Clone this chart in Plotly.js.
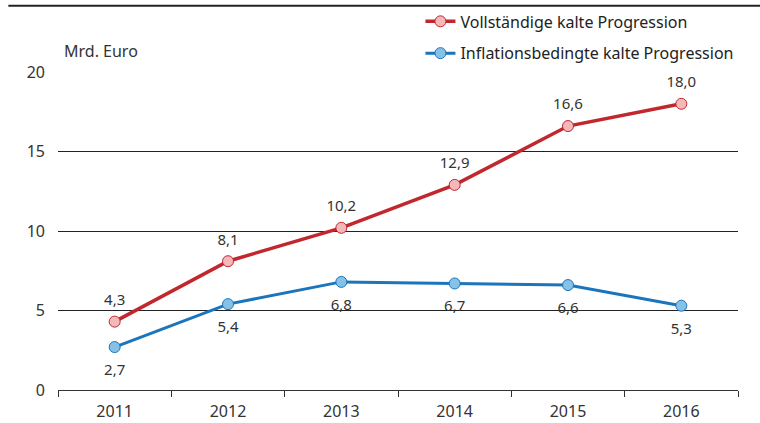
<!DOCTYPE html>
<html>
<head>
<meta charset="utf-8">
<script src="https://cdn.plot.ly/plotly-3.0.1.min.js"></script>
<style>html,body{margin:0;padding:0;background:#fff}#chart{width:760px;height:423px}</style>
</head>
<body>
<div id="chart"></div>
<script>
const years = ["2011", "2012", "2013", "2014", "2015", "2016"];
const vollstaendig = [4.3, 8.1, 10.2, 12.9, 16.6, 18.0];
const inflationsbedingt = [2.7, 5.4, 6.8, 6.7, 6.6, 5.3];
const seriesNames = ["Vollständige kalte Progression", "Inflationsbedingte kalte Progression"];
const yTicks = [0, 5, 10, 15, 20];

const fmt = v => v.toFixed(1).replace('.', ',');
const FONT = "Noto Sans, sans-serif";
const labelFont = {family: FONT, size: 15, color: "#333"};

const traces = [
  {
    x: years, y: vollstaendig, name: seriesNames[0], type: "scatter", mode: "lines+markers",
    line: {color: "#c1272d", width: 3.5},
    marker: {size: 11, color: "#f5b8ba", line: {color: "#c1272d", width: 1}},
    legendgroup: "a"
  },
  {
    x: years, y: inflationsbedingt, name: seriesNames[1], type: "scatter", mode: "lines+markers",
    line: {color: "#1b75bc", width: 3},
    marker: {size: 11, color: "#86c1e6", line: {color: "#1b75bc", width: 1}},
    legendgroup: "b"
  },
  {
    x: years, y: vollstaendig, type: "scatter", mode: "markers+text", showlegend: false, hoverinfo: "skip",
    marker: {size: 19, color: "rgba(0,0,0,0)"},
    text: vollstaendig.map(fmt), textposition: "top center", textfont: labelFont
  },
  {
    x: years, y: inflationsbedingt, type: "scatter", mode: "markers+text", showlegend: false, hoverinfo: "skip",
    marker: {size: 25, color: "rgba(0,0,0,0)"},
    text: inflationsbedingt.map(fmt), textposition: "bottom center", textfont: labelFont
  }
];

const layout = {
  width: 760, height: 423,
  margin: {l: 58, r: 22, t: 72, b: 33, autoexpand: false},
  paper_bgcolor: "#fff", plot_bgcolor: "#fff",
  font: {family: FONT, size: 15, color: "#333"},
  showlegend: true,
  legend: {
    x: 0.533, xanchor: "left", y: 1.2125, yanchor: "top",
    font: {family: FONT, size: 16, color: "#222"},
    traceorder: "grouped", tracegroupgap: 8, itemwidth: 30,
    bgcolor: "rgba(0,0,0,0)"
  },
  xaxis: {
    type: "category", tickson: "boundaries",
    ticks: "outside", ticklen: 6, tickcolor: "#333", tickwidth: 1,
    showline: true, linecolor: "#333", linewidth: 1,
    showgrid: false, zeroline: false,
    ticklabelstandoff: 7,
    tickfont: {family: FONT, size: 16, color: "#333"},
    range: [-0.5, 5.5], fixedrange: true
  },
  yaxis: {
    range: [0, 20], tickvals: yTicks, ticktext: yTicks.map(String),
    showgrid: true, gridcolor: "#222", gridwidth: 1,
    zeroline: false, showline: false, ticks: "",
    ticklabelstandoff: 12,
    tickfont: {family: FONT, size: 16, color: "#333"},
    fixedrange: true
  },
  annotations: [
    {text: "Mrd. Euro", xref: "paper", yref: "paper", x: 0.006, y: 1.025, xanchor: "left", yanchor: "bottom",
     showarrow: false, font: {family: FONT, size: 16, color: "#333"}}
  ],
  shapes: [
    {type: "line", xref: "paper", yref: "paper", x0: -0.073, x1: 1.04, y0: 1.208, y1: 1.208,
     line: {color: "#222", width: 2}}
  ]
};

Plotly.newPlot("chart", traces, layout, {displayModeBar: false, staticPlot: true});
</script>
</body>
</html>
